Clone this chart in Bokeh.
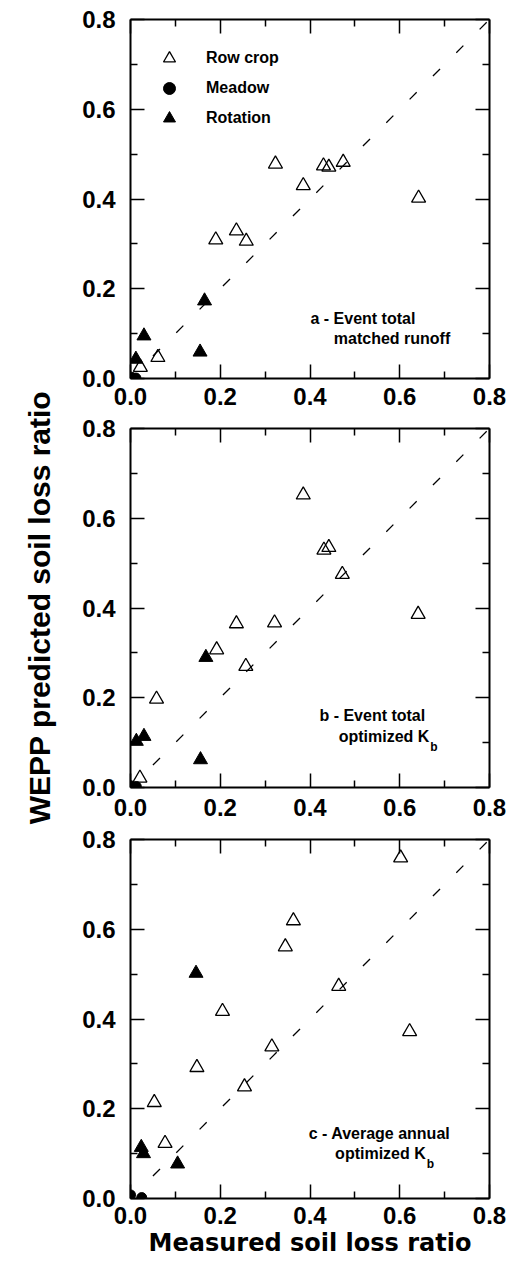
import math
from bokeh.plotting import figure
from bokeh.layouts import column, row
from bokeh.models import (Range1d, LinearAxis, FixedTicker, PrintfTickFormatter,
                          CustomJSTickFormatter, Legend, LegendItem, Label)
from bokeh.embed import file_html
from bokeh.resources import INLINE

# ---------------- data ----------------
major_ticks = [0.0, 0.2, 0.4, 0.6, 0.8]
minor_ticks = [0.1, 0.3, 0.5, 0.7]
one_to_one = [0.05, 0.8]

# panel a - event total, matched runoff
rc_a_x = [0.323, 0.385, 0.430, 0.442, 0.474, 0.642, 0.190, 0.236, 0.258, 0.061, 0.022]
rc_a_y = [0.478, 0.430, 0.474, 0.471, 0.482, 0.402, 0.309, 0.329, 0.306, 0.047, 0.025]
mea_a_x = [0.002, 0.012]
mea_a_y = [0.003, 0.001]
rot_a_x = [0.012, 0.030, 0.155, 0.165]
rot_a_y = [0.043, 0.095, 0.059, 0.173]

# panel b - event total, optimized Kb
rc_b_x = [0.321, 0.385, 0.431, 0.442, 0.472, 0.641, 0.192, 0.236, 0.257, 0.058, 0.021]
rc_b_y = [0.367, 0.652, 0.529, 0.535, 0.475, 0.386, 0.307, 0.365, 0.270, 0.197, 0.021]
mea_b_x = [0.000, 0.013]
mea_b_y = [0.004, 0.002]
rot_b_x = [0.013, 0.030, 0.156, 0.168]
rot_b_y = [0.103, 0.114, 0.062, 0.290]

# panel c - average annual, optimized Kb
rc_c_x = [0.602, 0.363, 0.345, 0.464, 0.622, 0.205, 0.315, 0.148, 0.254, 0.053, 0.077]
rc_c_y = [0.759, 0.619, 0.561, 0.473, 0.372, 0.417, 0.338, 0.292, 0.249, 0.214, 0.123]
mea_c_x = [0.000, 0.025]
mea_c_y = [0.008, 0.002]
rot_c_x = [0.024, 0.029, 0.105, 0.146]
rot_c_y = [0.114, 0.100, 0.077, 0.502]

series_names = ["Row crop", "Meadow", "Rotation"]
y_title = "WEPP predicted soil loss ratio"
x_title = "Measured soil loss ratio"

FONT = "Liberation Sans"
TITLE_W = 60


def style_axis(ax, show_labels=True, standoff=12):
    ax.ticker = FixedTicker(ticks=major_ticks, minor_ticks=minor_ticks)
    ax.axis_line_color = "black"
    ax.axis_line_width = 2
    ax.major_tick_in = 14
    ax.major_tick_out = 0
    ax.minor_tick_in = 7
    ax.minor_tick_out = 0
    ax.major_tick_line_color = "black"
    ax.minor_tick_line_color = "black"
    ax.major_tick_line_width = 1.5
    ax.minor_tick_line_width = 1.5
    ax.major_label_text_font = FONT
    ax.major_label_text_font_style = "bold"
    ax.major_label_text_color = "black"
    if show_labels:
        ax.formatter = PrintfTickFormatter(format="%.1f")
        ax.major_label_text_font_size = "24px"
        ax.major_label_standoff = standoff
    else:
        ax.formatter = CustomJSTickFormatter(code="return ''")
        ax.major_label_text_font_size = "0px"
        ax.major_label_standoff = 0


def make_panel(rc_x, rc_y, mea_x, mea_y, rot_x, rot_y, height, top, bottom,
               xstand, ystand=15):
    p = figure(width=512 - TITLE_W, height=height,
               x_range=Range1d(0, 0.8), y_range=Range1d(0, 0.8),
               output_backend="svg", toolbar_location=None,
               min_border_left=130 - TITLE_W, min_border_right=23,
               min_border_top=top, min_border_bottom=bottom,
               background_fill_color="white", border_fill_color="white")
    p.grid.visible = False
    p.outline_line_color = None
    style_axis(p.below[0], True, xstand)
    style_axis(p.left[0], True, ystand)
    ax_top = LinearAxis()
    ax_right = LinearAxis()
    style_axis(ax_top, False)
    style_axis(ax_right, False)
    p.add_layout(ax_top, "above")
    p.add_layout(ax_right, "right")

    p.line(one_to_one, one_to_one, line_color="black", line_width=1.3,
           line_dash="10 23")
    r_rc = p.scatter(rc_x, rc_y, marker="triangle", size=14, fill_color=None,
                     line_color="black", line_width=1.3)
    r_me = p.scatter(mea_x, mea_y, marker="circle", size=10, fill_color="black",
                     line_color="black")
    r_ro = p.scatter(rot_x, rot_y, marker="triangle", size=14, fill_color="black",
                     line_color="black")
    return p, (r_rc, r_me, r_ro)


def add_text(p, x, y, text, align="left", size="16px", x_off=0, y_off=0):
    p.add_layout(Label(x=x, y=y, text=text, text_font=FONT, text_font_style="bold",
                       text_font_size=size, text_color="black", text_align=align,
                       text_baseline="middle", x_offset=x_off, y_offset=y_off))


# panel a
pa, rends = make_panel(rc_a_x, rc_a_y, mea_a_x, mea_a_y, rot_a_x, rot_a_y,
                       height=414, top=19, bottom=36, xstand=9)
legend = Legend(items=[LegendItem(label=n, renderers=[r]) for n, r in zip(series_names, rends)],
                location="top_left", margin=24, padding=16, spacing=0,
                glyph_width=30, glyph_height=30, label_standoff=22,
                label_text_font=FONT, label_text_font_style="bold",
                label_text_font_size="16px", label_text_color="black",
                border_line_color=None, background_fill_alpha=0)
pa.add_layout(legend)
add_text(pa, 0.401, 0.134, "a - Event total")
add_text(pa, 0.453, 0.089, "matched runoff")

# panel b
pb, _ = make_panel(rc_b_x, rc_b_y, mea_b_x, mea_b_y, rot_b_x, rot_b_y,
                   height=411, top=14, bottom=38, xstand=11)
add_text(pb, 0.421, 0.161, "b - Event total")
add_text(pb, 0.666, 0.113, "optimized K", align="right")
add_text(pb, 0.666, 0.113, "b", size="12px", x_off=1, y_off=-10)

# panel c
pc, _ = make_panel(rc_c_x, rc_c_y, mea_c_x, mea_c_y, rot_c_x, rot_c_y,
                   height=449, top=14, bottom=76, xstand=8)
xl = pc.below[0]
xl.axis_label = x_title
xl.axis_label_text_font = "DejaVu Sans"
xl.axis_label_text_font_style = "bold"
xl.axis_label_text_font_size = "24px"
xl.axis_label_text_color = "black"
xl.axis_label_standoff = 2
add_text(pc, 0.397, 0.145, "c - Average annual")
add_text(pc, 0.658, 0.0996, "optimized K", align="right")
add_text(pc, 0.658, 0.0996, "b", size="12px", x_off=1, y_off=-10)

# shared y-axis title strip
pt = figure(width=TITLE_W, height=1274, x_range=Range1d(0, TITLE_W),
            y_range=Range1d(0, 1274), output_backend="svg", toolbar_location=None,
            x_axis_location=None, y_axis_location=None, min_border=0,
            background_fill_color="white", border_fill_color="white")
pt.grid.visible = False
pt.outline_line_color = None
pt.add_layout(Label(x=39, y=1274 - 607, text=y_title, angle=math.pi / 2,
                    text_font=FONT, text_font_style="bold", text_font_size="30px",
                    text_color="black", text_align="center", text_baseline="middle"))

layout = row(pt, column(pa, pb, pc, spacing=0), spacing=0)
open("out.html", "w").write(file_html(layout, INLINE))
